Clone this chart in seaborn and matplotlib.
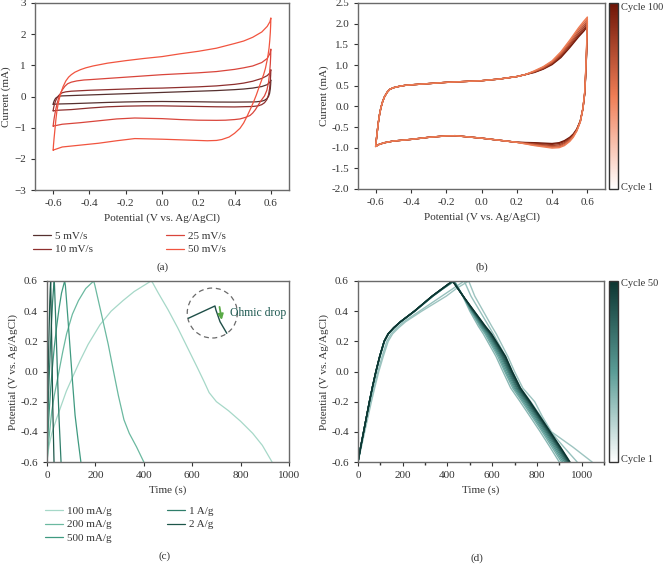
import numpy as np
import pandas as pd
import seaborn as sns
import matplotlib.pyplot as plt
from matplotlib.colors import LinearSegmentedColormap, Normalize
from matplotlib.cm import ScalarMappable
from matplotlib.patches import Ellipse
from matplotlib.ticker import MultipleLocator, FormatStrFormatter

# ---------------- (a) CV at different scan rates, (E, I) points ----------------
cv_rates = ['5 mV/s', '10 mV/s', '25 mV/s', '50 mV/s']
cv_colors = ['#56302f', '#8e2f2e', '#d9453b', '#f1543f']

cv5 = [(-0.6, -0.25), (-0.598, -0.2), (-0.595, -0.15), (-0.59, -0.09), (-0.585, -0.05), (-0.578, -0.02),
       (-0.57, 0.0), (-0.56, 0.015), (-0.55, 0.02), (-0.5, 0.03), (-0.4, 0.05), (-0.3, 0.07), (-0.2, 0.09),
       (-0.1, 0.11), (0.0, 0.13), (0.1, 0.15), (0.2, 0.17), (0.3, 0.19), (0.4, 0.22), (0.45, 0.24), (0.5, 0.27),
       (0.55, 0.32), (0.58, 0.38), (0.595, 0.46), (0.6, 0.53),
       (0.599, 0.4), (0.597, 0.25), (0.593, 0.1), (0.587, 0.0), (0.578, -0.07), (0.565, -0.12), (0.55, -0.15),
       (0.52, -0.17), (0.5, -0.175), (0.4, -0.18), (0.3, -0.178), (0.2, -0.17), (0.1, -0.165), (0.0, -0.16),
       (-0.1, -0.165), (-0.2, -0.175), (-0.3, -0.19), (-0.4, -0.21), (-0.5, -0.23), (-0.57, -0.24), (-0.6, -0.25)]
cv10 = [(-0.6, -0.46), (-0.598, -0.38), (-0.595, -0.3), (-0.59, -0.2), (-0.585, -0.12), (-0.578, -0.04),
        (-0.57, 0.03), (-0.56, 0.08), (-0.55, 0.12), (-0.53, 0.15), (-0.5, 0.17), (-0.4, 0.2), (-0.3, 0.22),
        (-0.2, 0.24), (-0.1, 0.26), (0.0, 0.27), (0.1, 0.29), (0.2, 0.31), (0.3, 0.34), (0.4, 0.39), (0.45, 0.43),
        (0.5, 0.49), (0.55, 0.58), (0.58, 0.67), (0.595, 0.76), (0.6, 0.86),
        (0.599, 0.7), (0.597, 0.5), (0.593, 0.25), (0.587, 0.05), (0.578, -0.1), (0.565, -0.2), (0.55, -0.26),
        (0.53, -0.3), (0.5, -0.32), (0.4, -0.335), (0.3, -0.33), (0.2, -0.32), (0.1, -0.31), (0.0, -0.3),
        (-0.1, -0.3), (-0.2, -0.31), (-0.3, -0.33), (-0.4, -0.37), (-0.5, -0.42), (-0.57, -0.44), (-0.6, -0.46)]
cv25 = [(-0.6, -0.95), (-0.598, -0.85), (-0.595, -0.72), (-0.59, -0.55), (-0.585, -0.4), (-0.578, -0.22),
        (-0.57, -0.06), (-0.56, 0.1), (-0.55, 0.21), (-0.535, 0.33), (-0.52, 0.41), (-0.5, 0.46), (-0.47, 0.5),
        (-0.43, 0.53), (-0.4, 0.54), (-0.3, 0.58), (-0.2, 0.62), (-0.1, 0.66), (0.0, 0.7), (0.1, 0.73),
        (0.2, 0.76), (0.3, 0.8), (0.4, 0.87), (0.45, 0.92), (0.5, 0.98), (0.55, 1.09), (0.58, 1.22),
        (0.595, 1.38), (0.6, 1.52),
        (0.599, 1.3), (0.597, 1.05), (0.593, 0.75), (0.587, 0.45), (0.578, 0.2), (0.565, 0.02), (0.545, -0.14),
        (0.53, -0.28), (0.515, -0.42), (0.5, -0.53), (0.485, -0.61), (0.46, -0.67), (0.43, -0.72), (0.4, -0.74),
        (0.35, -0.76), (0.3, -0.765), (0.2, -0.76), (0.1, -0.74), (0.0, -0.71), (-0.15, -0.69), (-0.25, -0.72),
        (-0.35, -0.78), (-0.45, -0.84), (-0.55, -0.89), (-0.6, -0.95)]
cv50 = [(-0.6, -1.72), (-0.598, -1.55), (-0.595, -1.35), (-0.59, -1.05), (-0.585, -0.75), (-0.58, -0.5),
        (-0.573, -0.25), (-0.565, -0.05), (-0.555, 0.15), (-0.545, 0.32), (-0.53, 0.5), (-0.515, 0.62),
        (-0.5, 0.7), (-0.48, 0.78), (-0.45, 0.86), (-0.42, 0.92), (-0.38, 0.98), (-0.3, 1.07), (-0.2, 1.15),
        (-0.1, 1.22), (0.0, 1.28), (0.1, 1.37), (0.2, 1.45), (0.3, 1.55), (0.4, 1.7), (0.45, 1.78), (0.5, 1.9),
        (0.55, 2.07), (0.58, 2.25), (0.595, 2.4), (0.6, 2.52),
        (0.599, 2.3), (0.597, 2.05), (0.594, 1.8), (0.59, 1.55), (0.585, 1.35), (0.58, 1.18), (0.57, 0.9),
        (0.56, 0.7), (0.55, 0.54), (0.535, 0.3), (0.52, 0.05), (0.505, -0.17), (0.49, -0.37), (0.47, -0.62),
        (0.45, -0.85), (0.43, -1.02), (0.4, -1.18), (0.37, -1.3), (0.33, -1.38), (0.3, -1.41), (0.25, -1.42),
        (0.2, -1.41), (0.1, -1.39), (0.0, -1.37), (-0.15, -1.35), (-0.25, -1.42), (-0.35, -1.5),
        (-0.45, -1.56), (-0.55, -1.62), (-0.6, -1.72)]

# ---------------- (b) CV cycling over 100 cycles ----------------
b_cycles = [1, 20, 40, 60, 80, 100]
b_fwd_lo = [(-0.6, -0.97), (-0.598, -0.88), (-0.595, -0.77), (-0.59, -0.58), (-0.585, -0.4), (-0.578, -0.2),
            (-0.57, -0.03), (-0.56, 0.12), (-0.55, 0.23), (-0.535, 0.34), (-0.52, 0.41), (-0.5, 0.45),
            (-0.47, 0.48), (-0.43, 0.51), (-0.4, 0.52), (-0.3, 0.55), (-0.2, 0.58), (-0.1, 0.6), (0.0, 0.62),
            (0.1, 0.66), (0.2, 0.72), (0.25, 0.77)]
b_fwd_hi_E = [0.3, 0.35, 0.4, 0.45, 0.5, 0.55, 0.58, 0.6]
b_fwd_hi_I = [
    [0.86, 0.96, 1.10, 1.32, 1.60, 1.90, 2.06, 2.16],
    [0.85, 0.95, 1.08, 1.29, 1.56, 1.86, 2.01, 2.11],
    [0.84, 0.93, 1.06, 1.26, 1.52, 1.81, 1.96, 2.06],
    [0.84, 0.92, 1.05, 1.24, 1.49, 1.76, 1.91, 2.02],
    [0.83, 0.91, 1.03, 1.21, 1.45, 1.72, 1.86, 1.97],
    [0.82, 0.90, 1.01, 1.18, 1.42, 1.68, 1.82, 1.93],
]
b_rev_hi_E = [0.6, 0.598, 0.595, 0.59, 0.585, 0.575, 0.56, 0.54, 0.52, 0.5, 0.47, 0.44, 0.4, 0.35, 0.3]
b_rev_hi_I = [
    [2.16, 1.80, 1.35, 0.80, 0.35, -0.05, -0.38, -0.60, -0.75, -0.85, -0.95, -1.00, -1.01, -0.98, -0.95],
    [2.11, 1.76, 1.32, 0.78, 0.34, -0.05, -0.37, -0.59, -0.73, -0.83, -0.93, -0.98, -0.99, -0.96, -0.94],
    [2.06, 1.72, 1.29, 0.76, 0.33, -0.05, -0.37, -0.58, -0.72, -0.81, -0.90, -0.96, -0.97, -0.95, -0.92],
    [2.02, 1.68, 1.26, 0.74, 0.32, -0.05, -0.36, -0.57, -0.70, -0.79, -0.88, -0.93, -0.95, -0.93, -0.91],
    [1.97, 1.64, 1.23, 0.72, 0.31, -0.05, -0.36, -0.56, -0.69, -0.77, -0.85, -0.90, -0.92, -0.91, -0.89],
    [1.93, 1.60, 1.20, 0.70, 0.30, -0.05, -0.35, -0.55, -0.67, -0.75, -0.83, -0.88, -0.90, -0.89, -0.88],
]
b_rev_lo = [(0.2, -0.87), (0.1, -0.82), (0.0, -0.77), (-0.1, -0.73), (-0.15, -0.71), (-0.2, -0.715),
            (-0.3, -0.75), (-0.4, -0.8), (-0.45, -0.82), (-0.5, -0.84), (-0.55, -0.88), (-0.58, -0.92),
            (-0.6, -0.97)]

# ---------------- (c) GCD at different current densities, (t, V) points ----------------
gcd_rates = ['100 mA/g', '200 mA/g', '500 mA/g', '1 A/g', '2 A/g']
gcd_colors = ['#a6d8c8', '#6bb9a0', '#3f9a80', '#2f7e6a', '#1d5649']
gcd100 = [(0, -0.6), (5, -0.53), (10, -0.48), (20, -0.41), (30, -0.36), (40, -0.31), (60, -0.22), (80, -0.13),
          (105, -0.04), (136, 0.07), (170, 0.18), (219, 0.31), (265, 0.4), (314, 0.47), (360, 0.53),
          (400, 0.57), (430, 0.6), (436, 0.59), (460, 0.52), (500, 0.41), (540, 0.29), (580, 0.16),
          (620, 0.03), (650, -0.07), (670, -0.14), (700, -0.2), (750, -0.26), (800, -0.33), (850, -0.41),
          (890, -0.49), (930, -0.6)]
gcd200 = [(0, -0.6), (4, -0.52), (8, -0.45), (14, -0.35), (20, -0.26), (30, -0.16), (47, -0.02), (65, 0.13),
          (81, 0.25), (105, 0.38), (130, 0.47), (160, 0.55), (193, 0.6), (198, 0.57), (225, 0.38), (253, 0.18),
          (275, 0.0), (295, -0.16), (318, -0.32), (340, -0.41), (370, -0.5), (400, -0.6)]
gcd500 = [(0, -0.6), (2, -0.5), (4, -0.42), (7, -0.32), (10, -0.24), (16, -0.1), (22, 0.02), (30, 0.16),
          (40, 0.3), (50, 0.42), (60, 0.52), (73, 0.6), (76, 0.57), (86, 0.36), (96, 0.14), (106, -0.08),
          (116, -0.29), (128, -0.45), (140, -0.6)]
gcd1 = [(0, -0.6), (1, -0.5), (2, -0.42), (4, -0.28), (6, -0.17), (9, -0.04), (13, 0.12), (18, 0.3),
        (23, 0.46), (27, 0.55), (30, 0.6), (31, 0.57), (36, 0.34), (41, 0.1), (46, -0.15), (50, -0.32),
        (54, -0.46), (58, -0.6)]
gcd2 = [(0, -0.6), (0.5, -0.5), (1, -0.42), (2, -0.28), (3, -0.17), (4.5, -0.04), (6.5, 0.12), (9, 0.3),
        (11.5, 0.46), (13.5, 0.55), (15, 0.6), (15.5, 0.57), (18, 0.34), (20.5, 0.1), (23, -0.15), (25, -0.32),
        (27, -0.46), (29, -0.6)]

# inset sketch of the ohmic drop (axes fraction)
inset_x = [0.584, 0.694, 0.698, 0.715, 0.743]
inset_y = [0.794, 0.862, 0.840, 0.775, 0.711]

# ---------------- (d) GCD cycling over 50 cycles ----------------
d_cycles = [1, 2, 5, 10, 15, 20, 25, 30, 35, 40, 45, 50]
d_charge_V = [-0.6, -0.5, -0.4, -0.3, -0.2, -0.1, 0.0, 0.1, 0.2, 0.25, 0.29, 0.33, 0.4, 0.5, 0.55, 0.6]
d_charge_t = [
    [0, 15, 30, 45, 60, 76, 93, 113, 135, 155, 182, 213, 285, 395, 440, 495],
    [0, 14, 28, 42, 57, 72, 89, 108, 129, 148, 174, 205, 275, 375, 425, 475],
    [0, 12, 25, 38, 52, 66, 82, 99, 119, 137, 162, 193, 255, 336, 382, 432],
    [0, 12, 25, 38, 52, 66, 81, 98, 118, 136, 161, 192, 254, 335, 381, 430],
    [0, 12, 25, 38, 51, 65, 81, 98, 118, 136, 161, 191, 253, 334, 380, 428],
    [0, 12, 25, 38, 51, 65, 80, 97, 117, 135, 160, 191, 253, 334, 379, 427],
    [0, 12, 25, 38, 51, 65, 80, 97, 117, 135, 160, 190, 252, 333, 379, 426],
    [0, 12, 25, 38, 51, 65, 80, 97, 117, 135, 160, 190, 252, 333, 378, 425],
    [0, 12, 25, 38, 51, 65, 80, 97, 117, 135, 160, 190, 252, 332, 378, 424],
    [0, 12, 25, 38, 51, 65, 80, 97, 117, 135, 160, 190, 252, 332, 377, 423],
    [0, 12, 25, 38, 51, 65, 80, 97, 117, 135, 160, 190, 252, 332, 377, 423],
    [0, 12, 25, 38, 51, 65, 80, 97, 117, 135, 160, 190, 252, 331, 377, 422],
]
d_discharge_V = [0.6, 0.5, 0.4, 0.3, 0.25, 0.1, 0.0, -0.11, -0.2, -0.3, -0.4, -0.5, -0.6]
d_discharge_t = [
    [495, 522, 560, 598, 618, 670, 700, 737, 790, 825, 865, 960, 1047],
    [475, 505, 545, 585, 605, 660, 690, 727, 772, 818, 862, 920, 980],
    [432, 468, 500, 538, 560, 617, 648, 683, 725, 770, 815, 858, 900],
    [430, 470, 505, 545, 568, 625, 656, 692, 734, 779, 824, 867, 910],
    [428, 470, 508, 550, 573, 631, 661, 698, 740, 785, 830, 874, 917],
    [427, 470, 510, 554, 578, 636, 667, 703, 746, 791, 836, 880, 924],
    [426, 470, 512, 557, 582, 641, 672, 708, 751, 796, 841, 886, 930],
    [425, 470, 514, 560, 586, 645, 676, 712, 756, 801, 846, 891, 935],
    [424, 470, 516, 563, 589, 649, 680, 717, 760, 805, 850, 895, 939],
    [423, 470, 517, 565, 592, 653, 684, 720, 764, 809, 854, 899, 943],
    [423, 470, 519, 568, 595, 657, 687, 724, 767, 812, 857, 902, 946],
    [422, 470, 520, 570, 597, 660, 690, 727, 770, 815, 860, 905, 948],
]

# ================= figure =================
sns.set_theme(style="ticks")
plt.rcParams['font.family'] = ['Liberation Serif', 'DejaVu Serif']
plt.rcParams.update({
    'font.size': 8, 'axes.labelsize': 8, 'xtick.labelsize': 8, 'ytick.labelsize': 8,
    'legend.fontsize': 8, 'axes.edgecolor': '#6a6a6a', 'axes.linewidth': 1.0,
    'xtick.color': '#333333', 'ytick.color': '#333333',
    'xtick.major.size': 3, 'ytick.major.size': 3, 'xtick.minor.size': 2,
    'xtick.major.width': 0.8, 'ytick.major.width': 0.8,
    'axes.labelcolor': '#333333', 'text.color': '#333333',
})

W, H = 665, 564
fig = plt.figure(figsize=(W / 100, H / 100), dpi=100)


def px_axes(l, t, r, b):
    return fig.add_axes([l / W, 1 - b / H, (r - l) / W, (b - t) / H])


ax_a = px_axes(35, 3, 289, 190)
ax_b = px_axes(358, 3, 605, 189)
cax_b = px_axes(609, 3, 618, 189)
ax_c = px_axes(47, 281, 289, 462)
ax_d = px_axes(358, 281, 604, 462)
cax_d = px_axes(609, 281, 618, 462)

lw = 0.9


def pts_frame(curves, names, xcol, ycol):
    parts = []
    for n, pts in zip(names, curves):
        arr = np.array(pts)
        parts.append(pd.DataFrame({xcol: arr[:, 0], ycol: arr[:, 1], 'grp': n}))
    return pd.concat(parts, ignore_index=True)


def cycle_bar(cax, cmap, n, top_y, bot_y):
    cb = fig.colorbar(ScalarMappable(norm=Normalize(1, n), cmap=cmap), cax=cax)
    cb.set_ticks([])
    cb.outline.set_edgecolor('#333333')
    cb.outline.set_linewidth(1.0)
    fig.text(621 / W, 1 - top_y / H, f'Cycle {n}', ha='left', va='center', fontsize=7.5)
    fig.text(621 / W, 1 - bot_y / H, 'Cycle 1', ha='left', va='center', fontsize=7.5)


# ---- (a)
df_a = pts_frame([cv5, cv10, cv25, cv50], cv_rates, 'E', 'I')
sns.lineplot(data=df_a, x='E', y='I', hue='grp', hue_order=cv_rates, palette=cv_colors,
             sort=False, estimator=None, lw=lw, ax=ax_a)
ax_a.set_xlim(-0.7, 0.7)
ax_a.set_ylim(-3, 3)
ax_a.xaxis.set_major_locator(MultipleLocator(0.2))
ax_a.xaxis.set_major_formatter(FormatStrFormatter('%.1f'))
ax_a.yaxis.set_major_locator(MultipleLocator(1))
ax_a.set_xlabel('Potential (V vs. Ag/AgCl)')
ax_a.set_ylabel('Current (mA)', labelpad=2)
h, l = ax_a.get_legend_handles_labels()
ax_a.get_legend().remove()
fig.legend(h, l, ncol=2, loc='upper left', bbox_to_anchor=(33 / W, 1 - 231 / H), frameon=False,
           borderpad=0, borderaxespad=0, handlelength=1.6, handletextpad=0.35,
           columnspacing=6.6, labelspacing=0.35)

# ---- (b)
cmap_b = LinearSegmentedColormap.from_list('cv_cyc', ['#ffffff', '#ef7d55', '#6e1406'])
for k in reversed(range(len(b_cycles))):
    c = b_cycles[k]
    E = [p[0] for p in b_fwd_lo] + b_fwd_hi_E + b_rev_hi_E + [p[0] for p in b_rev_lo]
    I = [p[1] for p in b_fwd_lo] + b_fwd_hi_I[k] + b_rev_hi_I[k] + [p[1] for p in b_rev_lo]
    col = cmap_b(0.5 + 0.5 * (c - 1) / 99)
    sns.lineplot(x=E, y=I, sort=False, estimator=None, color=col, lw=1.0, ax=ax_b)
ax_b.set_xlim(-0.7, 0.7)
ax_b.set_ylim(-2.0, 2.5)
ax_b.xaxis.set_major_locator(MultipleLocator(0.2))
ax_b.xaxis.set_major_formatter(FormatStrFormatter('%.1f'))
ax_b.yaxis.set_major_locator(MultipleLocator(0.5))
ax_b.yaxis.set_major_formatter(FormatStrFormatter('%.1f'))
ax_b.set_xlabel('Potential (V vs. Ag/AgCl)')
ax_b.set_ylabel('Current (mA)', labelpad=2)
cycle_bar(cax_b, cmap_b, 100, 8, 187)

# ---- (c)
df_c = pts_frame([gcd100, gcd200, gcd500, gcd1, gcd2], gcd_rates, 't', 'V')
sns.lineplot(data=df_c, x='t', y='V', hue='grp', hue_order=gcd_rates, palette=gcd_colors,
             sort=False, estimator=None, lw=lw, ax=ax_c)
ax_c.set_xlim(0, 1000)
ax_c.set_ylim(-0.6, 0.6)
ax_c.xaxis.set_major_locator(MultipleLocator(200))
ax_c.yaxis.set_major_locator(MultipleLocator(0.2))
ax_c.yaxis.set_major_formatter(FormatStrFormatter('%.1f'))
ax_c.set_xlabel('Time (s)')
ax_c.set_ylabel('Potential (V vs. Ag/AgCl)', labelpad=2)
h, l = ax_c.get_legend_handles_labels()
ax_c.get_legend().remove()
fig.legend(h, l, ncol=2, loc='upper left', bbox_to_anchor=(45 / W, 1 - 506 / H), frameon=False,
           borderpad=0, borderaxespad=0, handlelength=1.6, handletextpad=0.35,
           columnspacing=5.0, labelspacing=0.35)

# inset: ohmic drop sketch
ax_c.add_patch(Ellipse((0.683, 0.823), 0.207, 0.276, transform=ax_c.transAxes, fill=False,
                       ls=(0, (4, 3)), lw=0.9, ec='#6a6a6a'))
ax_c.plot(inset_x, inset_y, transform=ax_c.transAxes, color='#1f4f48', lw=1.0)
ax_c.annotate('', xy=(0.724, 0.77), xytext=(0.711, 0.872), xycoords='axes fraction',
              arrowprops=dict(arrowstyle='-|>', color='#5aaa46', lw=1.3, mutation_scale=8))
ax_c.text(0.756, 0.823, 'Ohmic drop', transform=ax_c.transAxes, color='#1f5a52',
          fontsize=8.5, va='center', ha='left')

# ---- (d)
cmap_d = LinearSegmentedColormap.from_list('gcd_cyc', ['#ffffff', '#5a9c96', '#0c3531'])
for k, c in enumerate(d_cycles):
    t = d_charge_t[k] + d_discharge_t[k][1:]
    v = d_charge_V + d_discharge_V[1:]
    col = cmap_d(0.3 + 0.7 * (c - 1) / 49)
    sns.lineplot(x=t, y=v, sort=False, estimator=None, color=col, lw=1.0, ax=ax_d)
ax_d.set_xlim(0, 1100)
ax_d.set_ylim(-0.6, 0.6)
ax_d.xaxis.set_major_locator(MultipleLocator(200))
ax_d.xaxis.set_minor_locator(MultipleLocator(100))
ax_d.yaxis.set_major_locator(MultipleLocator(0.2))
ax_d.yaxis.set_major_formatter(FormatStrFormatter('%.1f'))
ax_d.set_xlabel('Time (s)')
ax_d.set_ylabel('Potential (V vs. Ag/AgCl)', labelpad=2)
cycle_bar(cax_d, cmap_d, 50, 284, 460)

# panel labels
for s, x, y in [('(a)', 163, 267), ('(b)', 482, 267), ('(c)', 165, 556), ('(d)', 477, 558)]:
    fig.text(x / W, 1 - y / H, s, ha='center', va='center', fontsize=8)

fig.savefig('out.png', dpi=100)
